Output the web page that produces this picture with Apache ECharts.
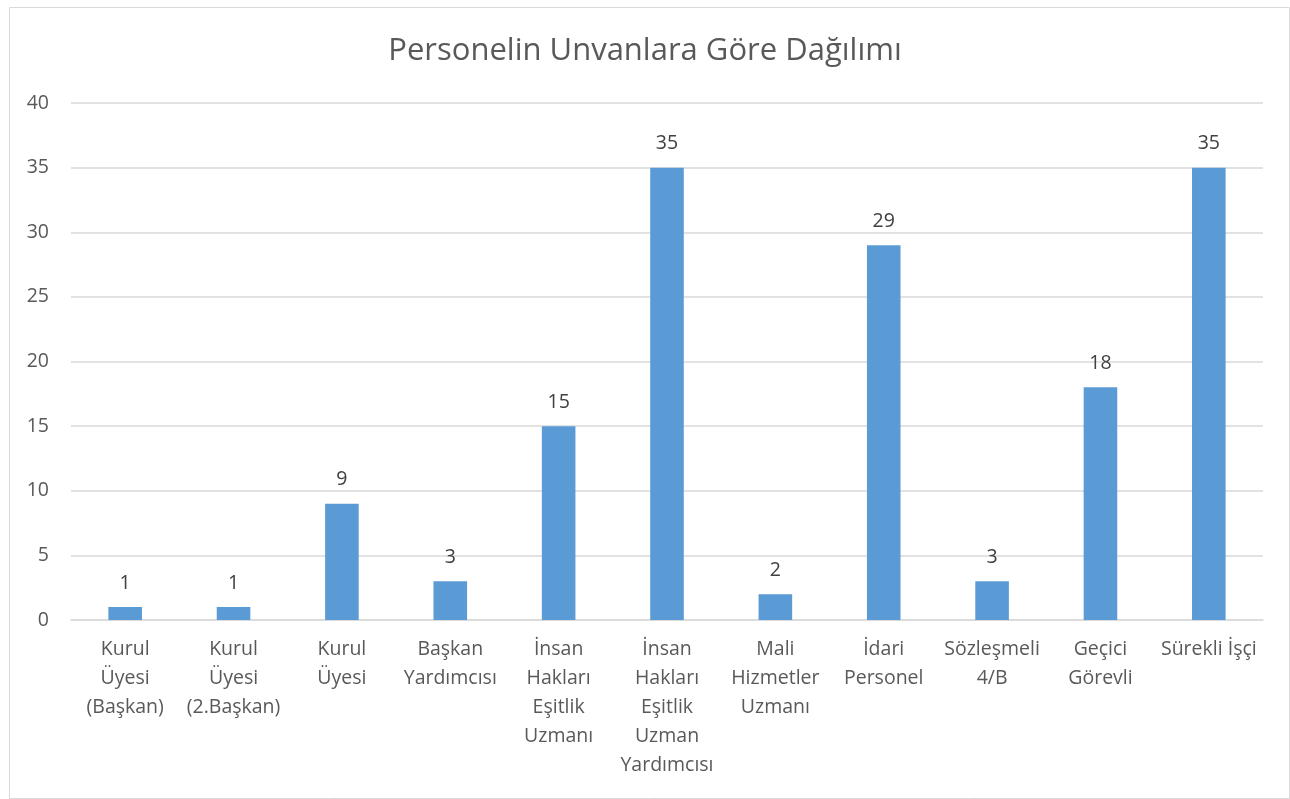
<!DOCTYPE html>
<html>
<head>
<meta charset="utf-8">
<script src="https://cdn.jsdelivr.net/npm/echarts@6/dist/echarts.min.js"></script>
<style>
  html, body { margin: 0; padding: 0; background: #fff; }
  #chart { width: 1290px; height: 799px; }
</style>
</head>
<body>
<div id="chart"></div>
<script>
const title = "Personelin Unvanlara Göre Dağılımı";
const categories = [
  "Kurul\nÜyesi\n(Başkan)",
  "Kurul\nÜyesi\n(2.Başkan)",
  "Kurul\nÜyesi",
  "Başkan\nYardımcısı",
  "İnsan\nHakları\nEşitlik\nUzmanı",
  "İnsan\nHakları\nEşitlik\nUzman\nYardımcısı",
  "Mali\nHizmetler\nUzmanı",
  "İdari\nPersonel",
  "Sözleşmeli\n4/B",
  "Geçici\nGörevli",
  "Sürekli İşçi"
];
const values = [1, 1, 9, 3, 15, 35, 2, 29, 3, 18, 35];

const fontFamily = "'Open Sans', 'Noto Sans', sans-serif";
const textColor = "#595959";

let option = {
  animation: false,
  textStyle: { fontFamily: fontFamily },
  title: {
    text: title,
    left: "center",
    top: 31,
    textStyle: {
      fontFamily: fontFamily,
      fontSize: 31,
      fontWeight: "normal",
      color: textColor
    }
  },
  graphic: [
    {
      type: "rect",
      left: 7,
      top: 5,
      shape: { width: 1280, height: 791 },
      style: { fill: "none", stroke: "#d9d9d9", lineWidth: 1 },
      silent: true
    }
  ],
  grid: {
    left: 71,
    right: 27,
    top: 103,
    bottom: 179
  },
  xAxis: {
    type: "category",
    data: categories,
    axisTick: { show: false },
    axisLine: { lineStyle: { color: "#d9d9d9", width: 1.5 } },
    axisLabel: {
      interval: 0,
      color: textColor,
      fontSize: 19.5,
      lineHeight: 29,
      margin: 15,
      align: "center"
    }
  },
  yAxis: {
    type: "value",
    min: 0,
    max: 40,
    interval: 5,
    axisLine: { show: false },
    axisTick: { show: false },
    splitLine: { lineStyle: { color: "#d9d9d9", width: 1.5 } },
    axisLabel: {
      color: textColor,
      fontSize: 19.5,
      margin: 22
    }
  },
  series: [
    {
      type: "bar",
      data: values,
      barWidth: "31%",
      itemStyle: { color: "#5b9bd5" },
      label: {
        show: true,
        position: "top",
        distance: 14,
        color: "#404040",
        fontSize: 19.5,
        fontFamily: fontFamily
      }
    }
  ]
};

let myChart = echarts.init(document.getElementById("chart"));
myChart.setOption(option);
window.addEventListener("resize", function() {
  myChart.resize();
});
</script>
</body>
</html>
